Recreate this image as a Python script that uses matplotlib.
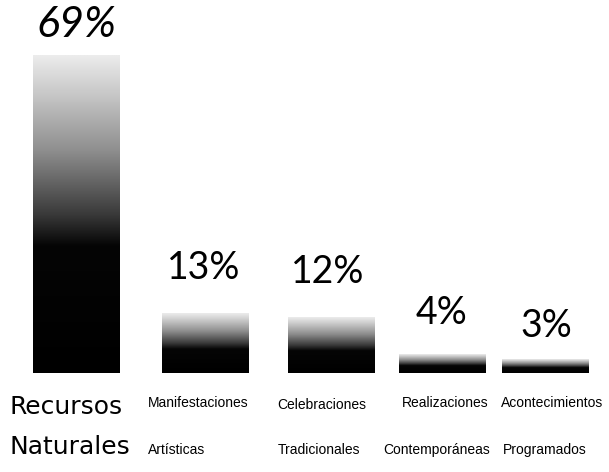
import numpy as np
import matplotlib
matplotlib.use("Agg")
import matplotlib.pyplot as plt
from matplotlib.colors import LinearSegmentedColormap

# ---- data ----
categories = [
    ("Recursos", "Naturales"),
    ("Manifestaciones", "Artísticas"),
    ("Celebraciones", "Tradicionales"),
    ("Realizaciones", "Contemporáneas"),
    ("Acontecimientos", "Programados"),
]
values = [69, 13, 12, 4, 3]
value_labels = ["69%", "13%", "12%", "4%", "3%"]

# ---- layout (pixels of a 609x472 canvas) ----
W, H = 609, 472
bar_centers = [76, 205, 331, 442, 545]
bar_width = 87
base_px = 373          # pixel row of bar bottoms
top_px = 55            # pixel row of tallest bar top
pct_pos = [(76, 25), (204, 268), (328, 272), (442, 313), (546, 326)]
pct_sizes = [31, 27, 27, 27, 27]
line1_pos = [(10, 407), (148, 403), (277, 405), (402, 403), (501, 403)]
line2_pos = [(10, 447), (148, 450), (278, 450), (383, 450), (503, 450)]

fig = plt.figure(figsize=(W / 100, H / 100), dpi=100)
ax = fig.add_axes([0, 0, 1, 1])
ax.set_axis_off()

scale = (base_px - top_px) / max(values)   # px per percent

cmap = LinearSegmentedColormap.from_list(
    "scan", [(0.0, "#000000"), (0.40, "#050505"), (0.50, "#3a3a3a"),
             (0.70, "#8e8e8e"), (0.88, "#c8c8c8"), (1.0, "#ececec")])
grad = np.linspace(0, 1, 256).reshape(-1, 1)

for c, v in zip(bar_centers, values):
    x0, x1 = c - bar_width / 2, c + bar_width / 2
    ax.imshow(grad, cmap=cmap, origin="lower", aspect="auto",
              extent=(x0, x1, 0, v), interpolation="bilinear", zorder=2)

ax.set_xlim(0, W)
ax.set_ylim(-(H - base_px) / scale, max(values) + top_px / scale)

for (x, y), lab, fs in zip(pct_pos, value_labels, pct_sizes):
    fig.text(x / W, 1 - y / H, lab, ha="center", va="center",
             fontsize=fs, family=["Lato", "DejaVu Sans"], weight="normal",
             style="italic" if lab == "69%" else "normal", color="#000000")

for i, ((l1, l2), p1, p2) in enumerate(zip(categories, line1_pos, line2_pos)):
    if i == 0:
        kw = dict(family="DejaVu Sans", fontsize=18)
    else:
        kw = dict(family=["Liberation Sans", "DejaVu Sans"], fontsize=10)
    fig.text(p1[0] / W, 1 - p1[1] / H, l1, ha="left", va="center", color="#000000", **kw)
    fig.text(p2[0] / W, 1 - p2[1] / H, l2, ha="left", va="center", color="#000000", **kw)

fig.savefig("out.png", dpi=100, facecolor="white")
